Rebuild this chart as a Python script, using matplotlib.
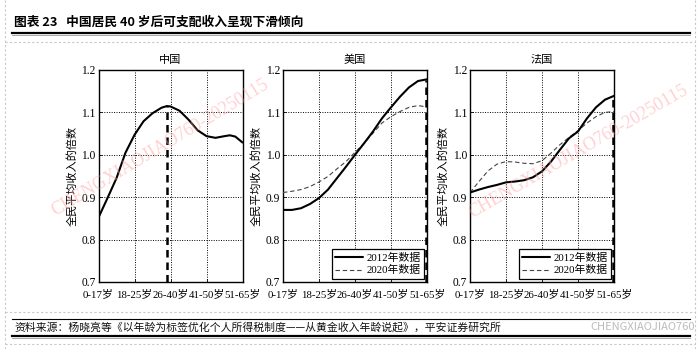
import numpy as np
import matplotlib
matplotlib.use("Agg")
import matplotlib.pyplot as plt
import matplotlib.transforms as mtransforms
from matplotlib.lines import Line2D

# ---------------- data ----------------
age_labels = ["0-17岁", "18-25岁", "26-40岁", "41-50岁", "51-65岁"]
y_ticks = [0.7, 0.8, 0.9, 1.0, 1.1, 1.2]

pos = [0, 0.25, 0.5, 0.75, 1.0, 1.25, 1.5, 1.75, 2.0, 2.25, 2.5, 2.75, 3.0, 3.25, 3.5, 3.75, 4.0]

china_pos = [0, 0.25, 0.5, 0.75, 1.0, 1.25, 1.5, 1.75, 1.9, 2.0, 2.25, 2.5, 2.75, 3.0, 3.25, 3.5, 3.65, 3.8, 4.0]
china_vals = [0.852, 0.898, 0.945, 1.005, 1.047, 1.079, 1.098, 1.111, 1.115, 1.114, 1.104,
              1.083, 1.058, 1.044, 1.040, 1.044, 1.046, 1.043, 1.029]

us_2012 = [0.870, 0.870, 0.874, 0.884, 0.898, 0.918, 0.945, 0.972, 1.000, 1.027, 1.055,
           1.086, 1.112, 1.137, 1.159, 1.174, 1.178]
us_2020 = [0.911, 0.914, 0.918, 0.925, 0.936, 0.949, 0.967, 0.984, 1.006, 1.027, 1.051,
           1.075, 1.090, 1.102, 1.112, 1.116, 1.113]

fr_2012 = [0.911, 0.918, 0.924, 0.929, 0.935, 0.937, 0.940, 0.947, 0.961, 0.984, 1.012,
           1.039, 1.055, 1.086, 1.112, 1.130, 1.139]
fr_2020 = [0.911, 0.937, 0.962, 0.978, 0.984, 0.983, 0.980, 0.979, 0.986, 1.004, 1.024,
           1.041, 1.057, 1.075, 1.090, 1.100, 1.102]

peak_x = [1.9, 3.97, 3.97]

panel_titles = ["中国", "美国", "法国"]
legend_labels = ["2012年数据", "2020年数据"]
ylabel = "全民平均收入的倍数"
main_title = "图表 23   中国居民 40 岁后可支配收入呈现下滑倾向"
source = "资料来源：杨晓亮等《以年龄为标签优化个人所得税制度——从黄金收入年龄说起》，平安证券研究所"

# ---------------- style ----------------
SERIF = ["Liberation Serif", "Noto Sans CJK SC"]
CJK = ["Noto Sans CJK SC", "DejaVu Sans"]
plt.rcParams["font.family"] = SERIF

W, H = 700, 349
fig = plt.figure(figsize=(7.0, 3.49), dpi=100)

def fx(px):
    return px / W

def fy(py):
    return 1 - py / H

axes_left = [98.5, 283, 470]
ax_w = 144
ax_top, ax_bot = 70, 282

series = [
    [(china_pos, china_vals, "solid")],
    [(pos, us_2012, "solid"), (pos, us_2020, "dash")],
    [(pos, fr_2012, "solid"), (pos, fr_2020, "dash")],
]

shift = mtransforms.ScaledTranslation(-0.10, 0, fig.dpi_scale_trans)

for i, left in enumerate(axes_left):
    ax = fig.add_axes([fx(left), fy(ax_bot), ax_w / W, (ax_bot - ax_top) / H])
    ax.set_xlim(0, 4)
    ax.set_ylim(0.7, 1.2)
    ax.set_xticks(range(len(age_labels)))
    ax.set_xticklabels(age_labels, fontsize=7.8, family=SERIF)
    for lab in ax.get_xticklabels():
        lab.set_transform(lab.get_transform() + shift)
    ax.set_yticks(y_ticks)
    ax.set_yticklabels([f"{v:.1f}" for v in y_ticks], fontsize=8.3, family=SERIF)
    ax.tick_params(axis="both", direction="in", length=2, width=0.6, pad=2)
    ax.tick_params(axis="x", pad=5)
    ax.grid(True, color="black", linestyle=(0, (1, 1.5)), linewidth=0.7)
    ax.set_axisbelow(True)
    for sp in ax.spines.values():
        sp.set_linewidth(1.0)
        sp.set_color("black")
    ax.set_ylabel(ylabel, fontsize=8, family=CJK, labelpad=3)
    ax.set_title(panel_titles[i], fontsize=8, family=CJK, pad=5)

    handles = []
    for xs, ys, kind in series[i]:
        if kind == "solid":
            h, = ax.plot(xs, ys, color="black", linewidth=1.5, solid_capstyle="round", zorder=4)
        else:
            h, = ax.plot(xs, ys, color="#444444", linewidth=0.8, linestyle=(0, (4, 2.5)), zorder=3)
        handles.append(h)

    # vertical dashed marker at the peak of the main series
    xs0, ys0 = series[i][0][0], series[i][0][1]
    top = float(np.interp(peak_x[i], xs0, ys0))
    ax.plot([peak_x[i], peak_x[i]], [0.7, top], color="black", linewidth=1.8,
            linestyle=(0, (3, 2)), zorder=5, clip_on=False)

    if len(handles) > 1:
        leg = ax.legend(handles, legend_labels, loc="lower right",
                        prop={"family": SERIF, "size": 7.8},
                        frameon=True, fancybox=False, framealpha=1,
                        edgecolor="black", borderaxespad=0.3, handlelength=2.6,
                        handletextpad=0.3, borderpad=0.3, labelspacing=0.25)
        leg.get_frame().set_linewidth(0.9)
        leg.set_zorder(10)

# ---------------- title / frame decorations ----------------
fig.text(fx(14), fy(22.5), main_title, fontsize=9.2, fontweight="bold",
         family=CJK, va="center", ha="left")
fig.add_artist(Line2D([fx(12), fx(690)], [fy(32.8), fy(32.8)], color="black", linewidth=1.6,
                      transform=fig.transFigure))
fig.add_artist(Line2D([fx(12), fx(690)], [fy(34.8), fy(34.8)], color="#999999", linewidth=0.6,
                      transform=fig.transFigure))
dot = dict(color="#c8c8c8", linewidth=0.8, linestyle=(0, (2, 2)), transform=fig.transFigure)
fig.add_artist(Line2D([fx(5), fx(695)], [fy(41.5), fy(41.5)], **dot))
fig.add_artist(Line2D([fx(5), fx(695)], [fy(312), fy(312)], **dot))
fig.add_artist(Line2D([fx(5), fx(695)], [fy(344), fy(344)], **dot))
fig.add_artist(Line2D([fx(5), fx(5)], [fy(0), fy(349)], **dot))
fig.add_artist(Line2D([fx(695), fx(695)], [fy(0), fy(349)], **dot))

fig.add_artist(Line2D([fx(12), fx(690)], [fy(319), fy(319)], color="black", linewidth=0.8,
                      transform=fig.transFigure))
fig.add_artist(Line2D([fx(12), fx(690)], [fy(335.5), fy(335.5)], color="black", linewidth=1.6,
                      transform=fig.transFigure))
fig.add_artist(Line2D([fx(12), fx(690)], [fy(337.5), fy(337.5)], color="#999999", linewidth=0.6,
                      transform=fig.transFigure))
fig.text(fx(14), fy(327), source, fontsize=7.8, family=CJK, va="center", ha="left",
         color="#111111")

# watermarks
wm = "CHENGXIAOJIAO760-20250115"
fig.text(fx(160), fy(148), wm, fontsize=13, family=SERIF, color="#ff9a9a", alpha=0.45,
         rotation=31, ha="center", va="center", zorder=20)
fig.text(fx(578), fy(152), wm, fontsize=13, family=SERIF, color="#ff9a9a", alpha=0.45,
         rotation=30, ha="center", va="center", zorder=20)
fig.text(fx(643), fy(327), "CHENGXIAOJIAO760", fontsize=8, family=CJK, color="#bbbbbb",
         ha="center", va="center", zorder=20)

fig.savefig("out.png", dpi=100)
